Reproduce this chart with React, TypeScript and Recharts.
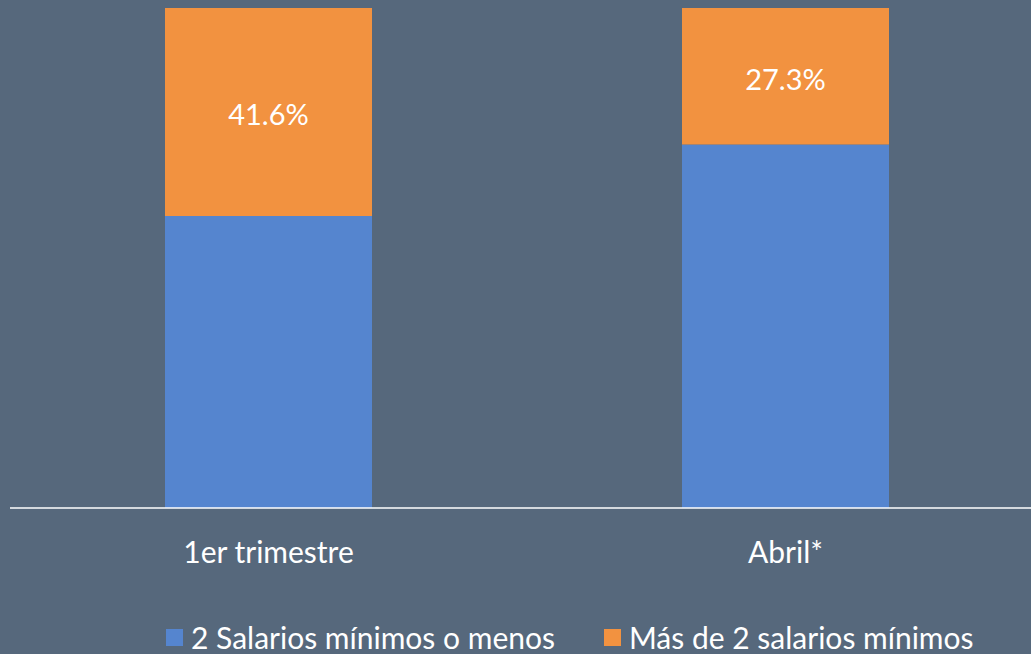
import React from "react";
import { BarChart, Bar, XAxis, YAxis, Legend, LabelList } from "recharts";

const categories = ["1er trimestre", "Abril*"];
const hastaDos = [58.4, 72.7];
const masDeDos = [41.6, 27.3];

const data = categories.map((name, i) => ({ name, low: hastaDos[i], high: masDeDos[i] }));

const BLUE = "#5585CF";
const ORANGE = "#F29240";
const BG = "#56687C";
const FONT = "Lato, 'Open Sans', sans-serif";

function LegendBox() {
  const items = [
    { label: "2 Salarios mínimos o menos", color: BLUE },
    { label: "Más de 2 salarios mínimos", color: ORANGE },
  ];
  return (
    <div style={{ display: "flex", height: 36, alignItems: "center", fontFamily: FONT, fontSize: 30, lineHeight: "34px", color: "#fff", paddingLeft: 156 }}>
      {items.map((it, i) => (
        <div key={it.label} style={{ display: "flex", alignItems: "center", marginRight: i === 0 ? 49 : 0, position: "relative", top: 1 }}>
          <span style={{ width: 17, height: 17, background: it.color, marginRight: 8, display: "inline-block" }} />
          <span>{it.label}</span>
        </div>
      ))}
    </div>
  );
}

export default function App() {
  return (
    <div style={{ position: "absolute", left: 0, top: 0, width: 1031, height: 654, overflow: "hidden", background: BG }}>
      <BarChart width={1044} height={654} data={data} margin={{ top: 8, right: 0, bottom: 0, left: 10 }}>
        <XAxis
          dataKey="name"
          axisLine={{ stroke: "#fff", strokeWidth: 1.5 }}
          tickLine={false}
          tickMargin={28}
          height={110}
          tick={{ fill: "#fff", fontSize: 30, fontFamily: FONT }}
        />
        <YAxis hide domain={[0, 100]} />
        <Legend verticalAlign="bottom" content={() => <LegendBox />} />
        <Bar dataKey="low" stackId="a" fill={BLUE} barSize={207} isAnimationActive={false} />
        <Bar dataKey="high" stackId="a" fill={ORANGE} barSize={207} isAnimationActive={false}>
          <LabelList
            dataKey="high"
            position="center"
            fill="#fff"
            fontSize={29}
            fontFamily={FONT}
            dy={3}
            formatter={(v: any) => `${Number(v).toFixed(1)}%`}
          />
        </Bar>
      </BarChart>
    </div>
  );
}
